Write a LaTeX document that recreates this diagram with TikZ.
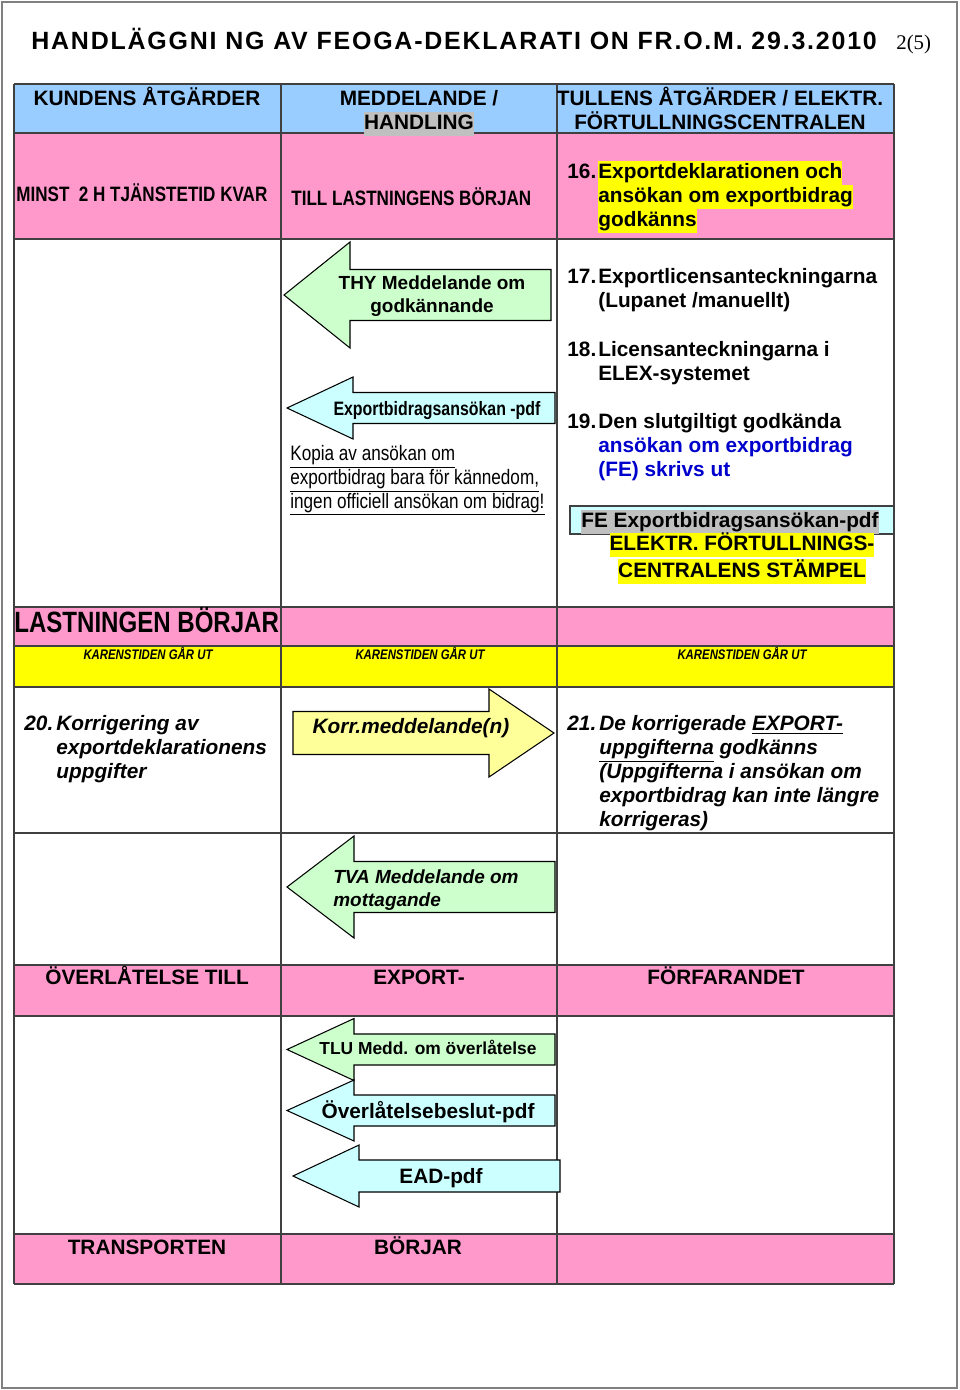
\documentclass[tikz,border=0pt]{standalone}
\usepackage{fontspec}
\setmainfont{Liberation Sans}
\newfontfamily\narrowfont[FakeStretch=0.82]{Liberation Sans}
\newfontfamily\serifnum{Liberation Serif}
\newfontfamily\titlefont[LetterSpace=7.2]{Liberation Sans}

\definecolor{hdrblue}{HTML}{99CCFF}
\definecolor{rowpink}{HTML}{FF99CC}
\definecolor{karyellow}{HTML}{FFFF00}
\definecolor{msggreen}{HTML}{CCFFCC}
\definecolor{pdfcyan}{HTML}{CCFFFF}
\definecolor{korryellow}{HTML}{FFFF99}
\definecolor{markgray}{HTML}{C0C0C0}
\definecolor{gridgray}{HTML}{404040}
\definecolor{fetext}{HTML}{0000CC}

\newcommand{\basesize}{\fontsize{11.85}{13.6}\selectfont}
\newcommand{\markbg}[2]{{\setlength{\fboxsep}{0pt}\colorbox{#1}{\strut #2}}}

% block arrow pointing left: tip x, head base x, right x, mid y, shaft half, head half, fill
\newcommand{\leftblock}[7]{%
  \filldraw[blockarrow, fill=#7] (#1,#4) -- (#2,{#4-#6}) -- (#2,{#4-#5}) -- (#3,{#4-#5})
    -- (#3,{#4+#5}) -- (#2,{#4+#5}) -- (#2,{#4+#6}) -- cycle;}

\tikzset{
  gridline/.style={draw=gridgray, line width=0.6pt},
  blockarrow/.style={draw=black, line width=0.6pt},
  hdrtext/.style={font=\basesize\bfseries, inner sep=0pt, align=center, anchor=base},
  bodytext/.style={font=\basesize\bfseries, inner sep=0pt, align=left, anchor=base west},
  italtext/.style={font=\basesize\bfseries\itshape, inner sep=0pt, align=left, anchor=base west},
  narrowtext/.style={font=\narrowfont\basesize\bfseries, inner sep=0pt, anchor=base west},
  karens/.style={font=\narrowfont\fontsize{7.9}{9.5}\selectfont\bfseries\itshape, inner sep=0pt, anchor=base},
  arrowtext/.style={font=\basesize\bfseries, inner sep=0pt, align=center, anchor=base},
}

\begin{document}
\begin{tikzpicture}[x=0.02cm, y=-0.02cm]
\useasboundingbox (0,0) rectangle (960,1390);

% Page frame
\draw[draw=gray, line width=0.8pt] (2,2) rectangle (957,1388);

% Title
\node[font=\titlefont\fontsize{14.2}{17}\selectfont\bfseries, inner sep=0pt, anchor=base west] (title) at (31,49)
  {HANDLÄGGNI NG AV FEOGA-DEKLARATI ON FR.O.M. 29.3.2010};
\node[font=\serifnum\basesize, inner sep=0pt, anchor=base west] (pageno) at (896,49) {2(5)};

% Row fills
\fill[hdrblue] (14,84) rectangle (894,133);
\fill[rowpink] (14,133) rectangle (894,239);
\fill[rowpink] (14,607) rectangle (894,646);
\fill[karyellow] (14,646) rectangle (894,687);
\fill[rowpink] (14,965) rectangle (894,1016);
\fill[rowpink] (14,1234) rectangle (894,1284);

% Grid
\foreach \ry in {84,133,239,607,646,687,833,965,1016,1234,1284}
  \draw[gridline] (14,\ry) -- (894,\ry);
\foreach \cx in {14,281,557,894}
  \draw[gridline] (\cx,84) -- (\cx,1284);

% Header Row (multi-line nodes sit on their last line)
\node[hdrtext] (hdr_kund) at (147,105) {KUNDENS ÅTGÄRDER};
\node[hdrtext] (hdr_medd) at (419,129) {MEDDELANDE /\\\markbg{markgray}{HANDLING}};
\node[hdrtext] (hdr_tull) at (720,129) {TULLENS ÅTGÄRDER / ELEKTR.\\FÖRTULLNINGSCENTRALEN};

% Deadline Row
\node[narrowtext] (minst) at (16,201) {MINST\ \ 2 H TJÄNSTETID KVAR};
\node[narrowtext] (till) at (291,205) {TILL LASTNINGENS BÖRJAN};
\node[bodytext] (n16) at (567,178) {16.};
\node[bodytext] (t16) at (598,226) {\markbg{karyellow}{Exportdeklarationen och}\\
  \markbg{karyellow}{ansökan om exportbidrag}\\\markbg{karyellow}{godkänns}};

% Approval Row
\leftblock{284}{350}{551}{295}{25.5}{53}{msggreen}
\node[arrowtext, font=\fontsize{10.8}{13}\selectfont\bfseries] (thy) at (432,312) {THY Meddelande om\\godkännande};
\leftblock{287}{353}{555}{408}{15.5}{31}{pdfcyan}
\node[narrowtext, font=\narrowfont\fontsize{11.05}{13}\selectfont\bfseries, anchor=base] (exppdf) at (437,415) {Exportbidragsansökan -pdf};
\node[font=\narrowfont\fontsize{11.9}{13.6}\selectfont, inner sep=0pt, align=left, anchor=base west] (kopia) at (290,508)
  {\underline{Kopia av ansökan om}\\\underline{exportbidrag bara för kännedom,}\\\underline{ingen officiell ansökan om bidrag!}};
\node[bodytext] (n17) at (567,283) {17.};
\node[bodytext] (t17) at (598,307) {Exportlicensanteckningarna\\(Lupanet /manuellt)};
\node[bodytext] (n18) at (567,356) {18.};
\node[bodytext] (t18) at (598,380) {Licensanteckningarna i\\ELEX-systemet};
\node[bodytext] (n19) at (567,428) {19.};
\node[bodytext] (t19) at (598,476) {Den slutgiltigt godkända\\\textcolor{fetext}{ansökan om exportbidrag}\\\textcolor{fetext}{(FE) skrivs ut}};
\filldraw[fill=pdfcyan, draw=gridgray, line width=0.6pt] (570,506) rectangle (894,534);
\node[bodytext] (fepdf) at (581,527) {\markbg{markgray}{FE Exportbidragsansökan-pdf}};
\node[hdrtext] (stamp) at (742,577) {\markbg{karyellow}{ELEKTR. FÖRTULLNINGS-}\\\markbg{karyellow}{CENTRALENS STÄMPEL}};

% Loading Rows
\node[narrowtext, font=\narrowfont\fontsize{16.7}{19}\selectfont\bfseries] (lastn) at (14,632) {LASTNINGEN BÖRJAR};
\node[karens] (kar1) at (148,659) {KARENSTIDEN GÅR UT};
\node[karens] (kar2) at (420,659) {KARENSTIDEN GÅR UT};
\node[karens] (kar3) at (742,659) {KARENSTIDEN GÅR UT};

% Correction Row
\node[italtext] (n20) at (24,730) {20.};
\node[italtext] (t20) at (56,778) {Korrigering av\\exportdeklarationens\\uppgifter};
\filldraw[blockarrow, fill=korryellow] (554,733) -- (489,689) -- (489,711.5) -- (293,711.5)
  -- (293,754.5) -- (489,754.5) -- (489,777) -- cycle;
\node[italtext, anchor=base] (korr) at (411,733) {Korr.meddelande(n)};
\node[italtext] (n21) at (567,730) {21.};
\node[italtext] (t21) at (599,826) {De korrigerade \underline{EXPORT-}\\\underline{uppgifterna} godkänns\\(Uppgifterna i ansökan om\\exportbidrag kan inte längre\\korrigeras)};

% Receipt Row
\leftblock{287}{354}{555}{887}{25.5}{51}{msggreen}
\node[italtext, font=\fontsize{10.8}{13}\selectfont\bfseries\itshape] (tva) at (333,906) {TVA Meddelande om\\mottagande};

% Transfer Rows
\node[bodytext] (overl) at (45,984) {ÖVERLÅTELSE TILL};
\node[hdrtext] (exp) at (419,984) {EXPORT-};
\node[hdrtext] (forf) at (726,984) {FÖRFARANDET};
\leftblock{287}{354}{555}{1049.5}{15.5}{31}{msggreen}
\node[arrowtext, font=\fontsize{9.9}{12}\selectfont\bfseries] (tlu) at (428,1054) {TLU Medd. om överlåtelse};
\leftblock{287}{354}{555}{1110.5}{15.5}{30.5}{pdfcyan}
\node[arrowtext] (beslut) at (428,1118) {Överlåtelsebeslut-pdf};
\leftblock{293}{359}{560}{1176}{16}{31}{pdfcyan}
\node[arrowtext] (ead) at (441,1183) {EAD-pdf};
\node[hdrtext] (transp) at (147,1254) {TRANSPORTEN};
\node[hdrtext] (borjar) at (418,1254) {BÖRJAR};

\end{tikzpicture}
\end{document}
